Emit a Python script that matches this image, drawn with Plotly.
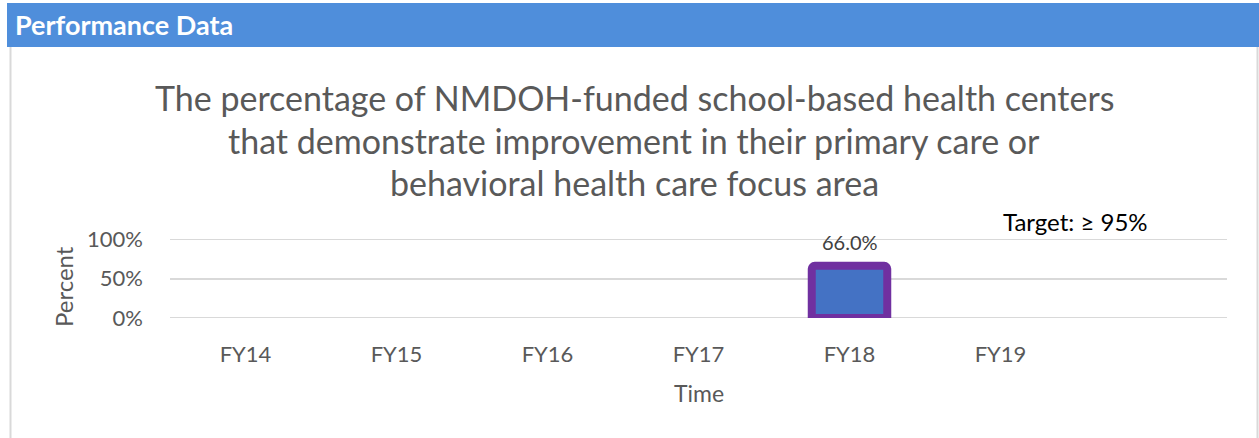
import plotly.graph_objects as go

categories = ["FY14", "FY15", "FY16", "FY17", "FY18", "FY19", ""]
values = [None, None, None, None, 0.66, None, None]
y_ticks = [0, 0.5, 1.0]
y_tick_labels = ["0%", "50%", "100%"]
title_lines = [
    "The percentage of NMDOH-funded school-based health centers",
    "that demonstrate improvement in their primary care or",
    "behavioral health care focus area",
]
target_text = "Target: \u2265 95%"
header_text = "Performance Data"
x_title = "Time"
y_title = "Percent"

W, H = 1259, 438
FONT = "Lato, Open Sans, sans-serif"

fig = go.Figure()
fig.add_trace(go.Bar(
    x=list(range(len(categories))),
    y=values,
    width=0.5,
    marker=dict(color="#4472C4", line=dict(color="#7030A0", width=8), cornerradius=3),
    hoverinfo="skip",
))

for i, v in enumerate(values):
    if v is not None:
        fig.add_annotation(x=i, y=v, xref="x", yref="y", text=f"{v*100:.1f}%",
                           showarrow=False, yshift=24,
                           font=dict(family=FONT, size=20, color="#404040"))

pl, pr, pt, pb = 170, 1227, 239, 318
fig.update_layout(
    width=W, height=H,
    margin=dict(l=pl, r=W - pr, t=pt, b=H - pb),
    paper_bgcolor="white", plot_bgcolor="white",
    showlegend=False,
    xaxis=dict(
        range=[-0.5, len(categories) - 0.5],
        tickvals=list(range(len(categories))),
        ticktext=categories,
        showgrid=False, zeroline=False, showline=False, ticks="",
        tickfont=dict(family=FONT, size=22, color="#595959"),
        ticklabelstandoff=21,
        fixedrange=True,
    ),
    yaxis=dict(
        range=[0, 1.0],
        tickvals=y_ticks, ticktext=y_tick_labels,
        showgrid=True, gridcolor="#D9D9D9", gridwidth=2,
        zeroline=False, showline=False, ticks="",
        tickfont=dict(family=FONT, size=22, color="#595959"),
        ticklabelstandoff=26,
        fixedrange=True,
    ),
)

# grid lines at the plot edges (0% and 100%)
for gy in (0.0, 1.0):
    fig.add_shape(type="line", xref="paper", yref="y", x0=0, x1=1, y0=gy, y1=gy,
                  line=dict(color="#D9D9D9", width=2), layer="below")

def px_x(x):
    return (x - pl) / (pr - pl)

def px_y(y):
    return (pb - y) / (pb - pt)

# axis titles
fig.add_annotation(xref="paper", yref="paper", x=px_x(699), y=px_y(393),
                   xanchor="center", yanchor="middle", showarrow=False,
                   text=x_title, font=dict(family=FONT, size=23, color="#595959"))
fig.add_annotation(xref="paper", yref="paper", x=px_x(63), y=px_y(287),
                   xanchor="center", yanchor="middle", showarrow=False, textangle=-90,
                   text=y_title, font=dict(family=FONT, size=24, color="#595959"))

# header band
fig.add_shape(type="rect", xref="paper", yref="paper",
              x0=px_x(7), x1=px_x(1262), y0=px_y(3), y1=px_y(47),
              fillcolor="#4F8EDB", line=dict(width=0), layer="above")
fig.add_annotation(xref="paper", yref="paper", x=px_x(13), y=px_y(24),
                   xanchor="left", yanchor="middle", showarrow=False,
                   text=f"<b>{header_text}</b>",
                   font=dict(family=FONT, size=27, color="white"))
# border lines
fig.add_shape(type="line", xref="paper", yref="paper",
              x0=px_x(10.5), x1=px_x(10.5), y0=px_y(47), y1=px_y(440),
              line=dict(color="#D9D9D9", width=2))
fig.add_shape(type="line", xref="paper", yref="paper",
              x0=px_x(1257.5), x1=px_x(1257.5), y0=px_y(47), y1=px_y(440),
              line=dict(color="#D9D9D9", width=2))

# title lines
for k, line in enumerate(title_lines):
    fig.add_annotation(xref="paper", yref="paper", x=px_x(634), y=px_y(98 + 42 * k),
                       xanchor="center", yanchor="middle", showarrow=False,
                       text=line, font=dict(family=FONT, size=34, color="#595959"))

fig.add_annotation(xref="paper", yref="paper", x=px_x(1001), y=px_y(221),
                   xanchor="left", yanchor="middle", showarrow=False,
                   text=target_text, font=dict(family=FONT, size=24, color="black"))

fig.write_html("out.html", config={"displayModeBar": False},
               post_script="document.body.style.margin='0';document.body.style.overflow='hidden';")
